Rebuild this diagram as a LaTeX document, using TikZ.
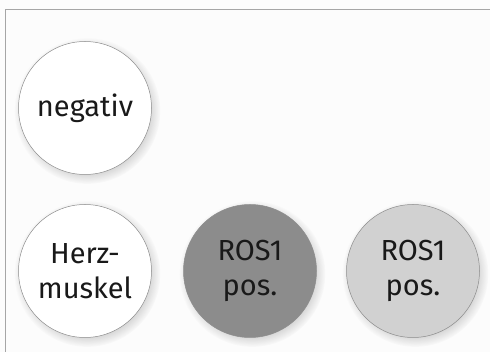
\documentclass[tikz,border=0pt]{standalone}
\usepackage{fontspec}
\setmainfont{Fira Sans}
\usetikzlibrary{shadows}
\begin{document}
\begin{tikzpicture}[x=1pt,y=-1pt,
  disc/.style={circle, draw=black!45, line width=0.5pt, minimum size=133pt, inner sep=0pt,
    align=center, font=\fontsize{29}{35}\selectfont, text=black!90,
    circular drop shadow={shadow xshift=2pt, shadow yshift=-2.5pt, opacity=0.25, fill=black!60}},
  frame/.style={draw=black!35, line width=0.8pt}]
\fill[black!1] (0,0) rectangle (490,352);
\useasboundingbox (0,0) rectangle (490,352);
\draw[frame] (490,9) -- (5,9) -- (5,352);
\node[disc, fill=white] (neg) at (85,108) {negativ};
\node[disc, fill=white] (herz) at (85,271) {Herz-\\muskel};
\node[disc, fill=black!45] (rosd) at (250,271) {ROS1\\pos.};
\node[disc, fill=black!18] (rosl) at (413,271) {ROS1\\pos.};
\end{tikzpicture}
\end{document}
